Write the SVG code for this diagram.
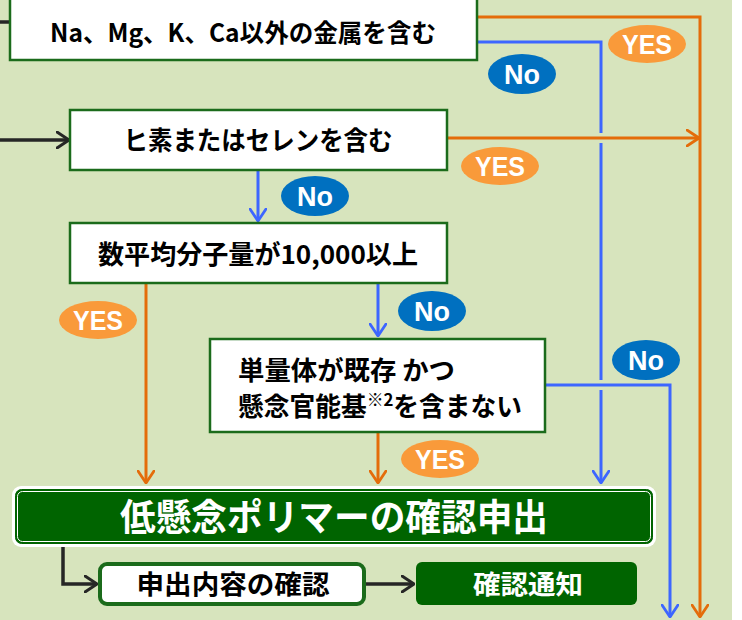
<svg xmlns="http://www.w3.org/2000/svg" width="742" height="620" viewBox="0 0 742 620">
<defs>
<style>
.bg{fill:#d7e4bd}
.box{fill:#fff;stroke:#1b6b1b;stroke-width:2.5}
.t{font-family:"Noto Sans CJK JP","Liberation Sans",sans-serif;font-weight:bold;fill:#000}
.w{fill:#fff}
.or{stroke:#e46c0a;stroke-width:3;fill:none}
.bl{stroke:#3d66ff;stroke-width:3;fill:none}
.bk{stroke:#262626;stroke-width:3.5;fill:none}
.halo{stroke:#d7e4bd;stroke-width:10;fill:none}
.yes{fill:#f99a3a}
.no{fill:#0070c0}
.lbl{font-family:"Liberation Sans","Noto Sans",sans-serif;font-weight:bold;font-size:27px;fill:#fff;text-anchor:middle}
</style>
<marker id="ao" viewBox="0 0 14 18" refX="13" refY="9" markerWidth="14" markerHeight="18" markerUnits="userSpaceOnUse" orient="auto"><path d="M1,1 L13,9 L1,17" fill="none" stroke="#e46c0a" stroke-width="2.8" stroke-linecap="round" stroke-linejoin="round"/></marker>
<marker id="ab" viewBox="0 0 14 18" refX="13" refY="9" markerWidth="14" markerHeight="18" markerUnits="userSpaceOnUse" orient="auto"><path d="M1,1 L13,9 L1,17" fill="none" stroke="#3d66ff" stroke-width="2.8" stroke-linecap="round" stroke-linejoin="round"/></marker>
<marker id="ak" viewBox="0 0 14 18" refX="13" refY="9" markerWidth="14" markerHeight="18" markerUnits="userSpaceOnUse" orient="auto"><path d="M1,1 L13,9 L1,17" fill="none" stroke="#262626" stroke-width="3" stroke-linecap="round" stroke-linejoin="round"/></marker>
</defs>
<rect x="0" y="0" width="742" height="620" fill="#fff"/>
<rect class="bg" x="0" y="0" width="732" height="620"/>

<g id="connectors">
<path class="or" d="M477,17 H700 V617" marker-end="url(#ao)"/>
<path class="bl" d="M477,42 H601 V483" marker-end="url(#ab)"/>
<path class="halo" d="M590,138 H612"/>
<path class="or" d="M447,138 H699" marker-end="url(#ao)"/>
<path class="bk" d="M0,140 H69" marker-end="url(#ak)"/>
<path class="bk" d="M0,22 H9" />
<path class="bl" d="M258,170 V221" marker-end="url(#ab)"/>
<path class="or" d="M146,283 V483" marker-end="url(#ao)"/>
<path class="bl" d="M378,283 V336" marker-end="url(#ab)"/>
<path class="or" d="M378,432 V483" marker-end="url(#ao)"/>
<path class="halo" d="M590,385 H612"/>
<path class="bl" d="M545,385 H670 V617" stroke-width="4" marker-end="url(#ab)"/>
<path class="bk" d="M63,547 V584 H97" stroke-width="3" marker-end="url(#ak)"/>
<path class="bk" d="M366,584 H414" marker-end="url(#ak)"/>
</g>

<g id="box1">
<rect class="box" x="10" y="-3" width="467" height="63"/>
<text class="t" x="243" y="42" font-size="25" text-anchor="middle" textLength="386" lengthAdjust="spacingAndGlyphs">Na、Mg、K、Ca以外の金属を含む</text>
</g>
<g id="box2">
<rect class="box" x="70" y="110" width="377" height="60"/>
<text class="t" x="258" y="150" font-size="26" text-anchor="middle" textLength="269" lengthAdjust="spacingAndGlyphs">ヒ素またはセレンを含む</text>
</g>
<g id="box3">
<rect class="box" x="70" y="223" width="377" height="60"/>
<text class="t" x="258" y="264" font-size="26" text-anchor="middle" textLength="320" lengthAdjust="spacingAndGlyphs">数平均分子量が10,000以上</text>
</g>
<g id="box4">
<rect class="box" x="210" y="339" width="335" height="93"/>
<text class="t" x="238" y="380" font-size="26" textLength="217" lengthAdjust="spacingAndGlyphs">単量体が既存 かつ</text>
<text class="t" x="238" y="416" font-size="26" textLength="284" lengthAdjust="spacingAndGlyphs"><tspan>懸念官能基</tspan><tspan font-size="17" dy="-10">※2</tspan><tspan dy="10">を含まない</tspan></text>
</g>
<g id="main">
<rect x="12" y="486" width="644" height="61" rx="9" fill="#fff"/>
<rect x="15.5" y="489.5" width="637" height="54" rx="6" fill="#006400" stroke="#006400" stroke-width="1"/>
<rect x="17.5" y="491.5" width="633" height="50" rx="5" fill="none" stroke="#fff" stroke-width="1"/>
<text class="t w" x="334" y="531" font-size="37" text-anchor="middle" textLength="428" lengthAdjust="spacingAndGlyphs">低懸念ポリマーの確認申出</text>
</g>
<g id="confirm">
<rect x="100" y="564" width="264" height="40" rx="7" fill="#fff" stroke="#1b6b1b" stroke-width="4"/>
<text class="t" x="233" y="594" font-size="26" text-anchor="middle" textLength="193" lengthAdjust="spacingAndGlyphs">申出内容の確認</text>
</g>
<g id="notice">
<rect x="416" y="562" width="221" height="43" rx="6" fill="#006400"/>
<text class="t w" x="528" y="594" font-size="26" text-anchor="middle" textLength="110" lengthAdjust="spacingAndGlyphs">確認通知</text>
</g>

<g id="labels">
<ellipse class="yes" cx="647" cy="44" rx="39" ry="19"/><text class="lbl" x="647" y="54" textLength="50" lengthAdjust="spacingAndGlyphs">YES</text>
<ellipse class="no" cx="522" cy="74" rx="34" ry="20"/><text class="lbl" x="522" y="84" textLength="36" lengthAdjust="spacingAndGlyphs">No</text>
<ellipse class="yes" cx="500" cy="166" rx="39" ry="19"/><text class="lbl" x="500" y="176" textLength="50" lengthAdjust="spacingAndGlyphs">YES</text>
<ellipse class="no" cx="315" cy="196" rx="34" ry="20"/><text class="lbl" x="315" y="206" textLength="36" lengthAdjust="spacingAndGlyphs">No</text>
<ellipse class="yes" cx="98" cy="320" rx="39" ry="19"/><text class="lbl" x="98" y="330" textLength="50" lengthAdjust="spacingAndGlyphs">YES</text>
<ellipse class="no" cx="432" cy="311" rx="34" ry="20"/><text class="lbl" x="432" y="321" textLength="36" lengthAdjust="spacingAndGlyphs">No</text>
<ellipse class="no" cx="646" cy="360" rx="34" ry="20"/><text class="lbl" x="646" y="370" textLength="36" lengthAdjust="spacingAndGlyphs">No</text>
<ellipse class="yes" cx="440" cy="459" rx="39" ry="19"/><text class="lbl" x="440" y="469" textLength="50" lengthAdjust="spacingAndGlyphs">YES</text>
</g>
</svg>
